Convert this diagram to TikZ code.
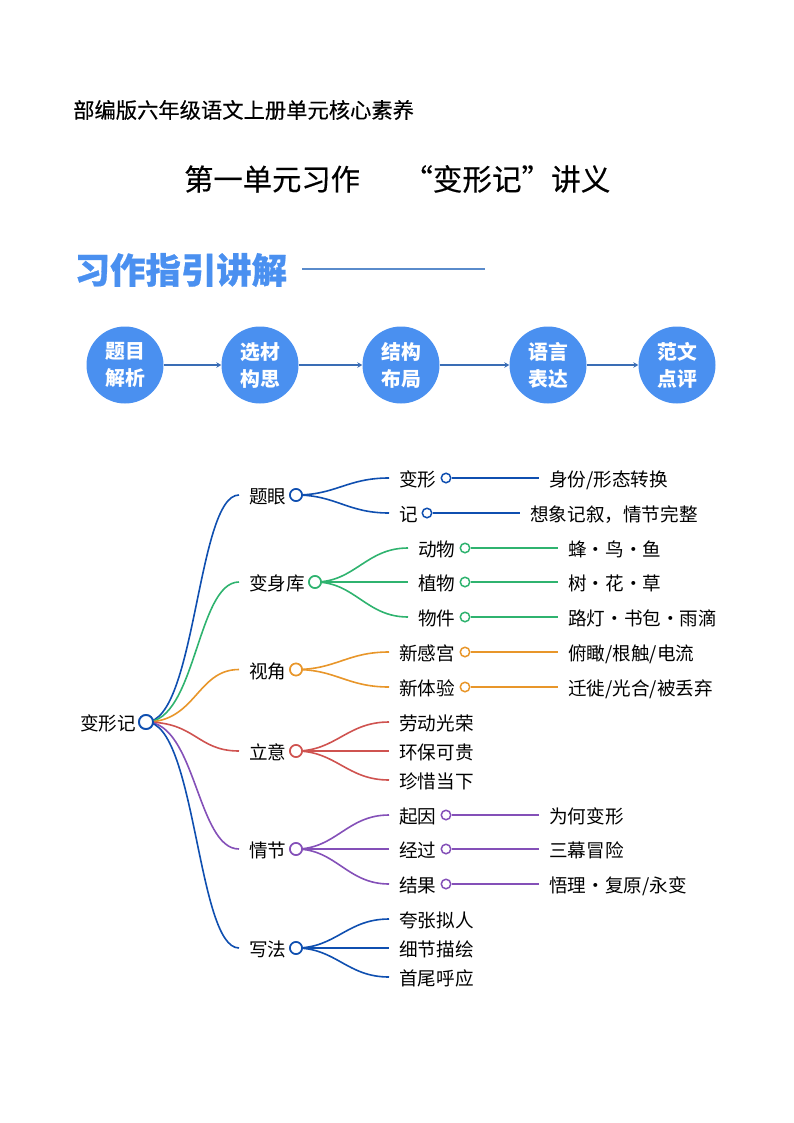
\documentclass[tikz,border=0pt]{standalone}
\usepackage{fontspec}
\usetikzlibrary{arrows.meta}
\setmainfont{Noto Sans CJK SC}
\newfontfamily\cjkmed[FakeBold=0.35]{Noto Sans CJK SC}
\newfontfamily\cjkheavy[BoldFeatures={FakeBold=0.8}]{Noto Sans CJK SC}
\definecolor{mblue}{HTML}{0F4FB0}
\definecolor{mgreen}{HTML}{2FB36F}
\definecolor{morange}{HTML}{E8962A}
\definecolor{mred}{HTML}{CF5350}
\definecolor{mpurple}{HTML}{8450B8}
\definecolor{headblue}{HTML}{4A90F0}
\definecolor{arrowblue}{HTML}{3A6DB5}
\definecolor{ruleblue}{HTML}{5A8BCB}
\tikzset{
  x=1pt,y=-1pt,
  pagetext/.style={anchor=west,inner sep=0pt,text=black},
  stepcirc/.style={circle,fill=headblue,minimum size=77pt,inner sep=0pt,text=white,align=center,font=\fontsize{19.8}{27}\selectfont\bfseries},
  steparrow/.style={arrowblue,line width=1.5pt,-{Stealth[length=5pt,width=5.5pt]}},
  lab/.style={anchor=west,inner ysep=0pt,inner xsep=10pt,text=black,text height=17pt,text depth=0pt,font=\fontsize{18.6}{18.6}\selectfont},
  dotbig/.style={circle,draw=#1,fill=white,line width=1.6pt,minimum size=12pt,inner sep=0pt},
  dotsmall/.style={circle,draw=#1,fill=white,line width=1.5pt,minimum size=9.5pt,inner sep=0pt},
  rootdot/.style={circle,draw=#1,fill=white,line width=1.8pt,minimum size=14pt,inner sep=0pt},
  curve/.style={#1,line width=1.6pt},
  straight/.style={#1,line width=1.6pt},
}
\begin{document}
\begin{tikzpicture}
\useasboundingbox (0,0) rectangle (794,1123);
\node[pagetext,font=\cjkmed\fontsize{21.3}{21.3}\selectfont] (top) at (73,110) {部编版六年级语文上册单元核心素养};
\node[pagetext,font=\cjkmed\fontsize{29.3}{29.3}\selectfont] (title1) at (184,179) {第一单元习作};
\node[pagetext,font=\cjkmed\fontsize{29.6}{29.6}\selectfont] (title2) at (403,179) {“变形记”讲义};
\node[pagetext,text=headblue,font=\cjkheavy\fontsize{35.4}{35.4}\selectfont\bfseries] (head) at (74.5,270) {习作指引讲解};
\coordinate (ruleA) at (302,269);
\coordinate (ruleB) at (485,269);
\draw[ruleblue,line width=1.1pt] (ruleA) -- (ruleB);

\node[stepcirc] (s1) at (125,365) {题目\\解析};
\node[stepcirc] (s2) at (260,365) {选材\\构思};
\node[stepcirc] (s3) at (401,365) {结构\\布局};
\node[stepcirc] (s4) at (548,365) {语言\\表达};
\node[stepcirc] (s5) at (677,365) {范文\\点评};
\draw[steparrow] (s1) -- (s2);
\draw[steparrow] (s2) -- (s3);
\draw[steparrow] (s3) -- (s4);
\draw[steparrow] (s4) -- (s5);

% root
\node[rootdot=mblue] (root) at (146,722) {};
\node[lab,anchor=east,inner xsep=0pt] (rootlab) at (136,722) {变形记};

% level 1 labels
\node[lab] (a) at (239,495) {题眼};
\node[lab] (b) at (239,582) {变身库};
\node[lab] (c) at (239,669.5) {视角};
\node[lab] (d) at (239,751) {立意};
\node[lab] (e) at (239,849) {情节};
\node[lab] (f) at (239,948) {写法};
\draw[curve=mblue] (root.center) .. controls +(50,0) and +(-42,0) .. (a.west);
\draw[curve=mgreen] (root.center) .. controls +(50,0) and +(-42,0) .. (b.west);
\draw[curve=morange] (root.center) .. controls +(50,0) and +(-42,0) .. (c.west);
\draw[curve=mred] (root.center) .. controls +(50,0) and +(-42,0) .. (d.west);
\draw[curve=mpurple] (root.center) .. controls +(50,0) and +(-42,0) .. (e.west);
\draw[curve=mblue] (root.center) .. controls +(50,0) and +(-42,0) .. (f.west);
\node[rootdot=mblue] at (root) {};

\node[dotbig=mblue] (ad) at (296,495) {};
\node[dotbig=mgreen] (bd) at (315,582) {};
\node[dotbig=morange] (cd) at (296,669.5) {};
\node[dotbig=mred] (dd) at (296,751) {};
\node[dotbig=mpurple] (ed) at (296,849) {};
\node[dotbig=mblue] (fd) at (296,948) {};

% level 2 labels
\node[lab] (a1) at (389,478) {变形};
\node[lab] (a2) at (389,513) {记};
\node[lab] (b1) at (408,548) {动物};
\node[lab] (b2) at (408,582) {植物};
\node[lab] (b3) at (408,617) {物件};
\node[lab] (c1) at (389,652) {新感宫};
\node[lab] (c2) at (389,687) {新体验};
\node[lab] (d1) at (389,722) {劳动光荣};
\node[lab] (d2) at (389,751) {环保可贵};
\node[lab] (d3) at (389,780) {珍惜当下};
\node[lab] (e1) at (389,815) {起因};
\node[lab] (e2) at (389,849) {经过};
\node[lab] (e3) at (389,884) {结果};
\node[lab] (f1) at (389,919) {夸张拟人};
\node[lab] (f2) at (389,948) {细节描绘};
\node[lab] (f3) at (389,977) {首尾呼应};

\foreach \p/\q/\k in {ad/a1/mblue,ad/a2/mblue,bd/b1/mgreen,bd/b2/mgreen,bd/b3/mgreen,cd/c1/morange,cd/c2/morange,dd/d1/mred,dd/d2/mred,dd/d3/mred,ed/e1/mpurple,ed/e2/mpurple,ed/e3/mpurple,fd/f1/mblue,fd/f2/mblue,fd/f3/mblue}{
  \draw[curve=\k] (\p.center) .. controls +(40,0) and +(-42,0) .. (\q.west);
}
\node[dotbig=mblue] at (ad) {};
\node[dotbig=mgreen] at (bd) {};
\node[dotbig=morange] at (cd) {};
\node[dotbig=mred] at (dd) {};
\node[dotbig=mpurple] at (ed) {};
\node[dotbig=mblue] at (fd) {};

% level 3 dots and labels
\node[dotsmall=mblue] (a1d) at (446,478) {};
\node[dotsmall=mblue] (a2d) at (427,513) {};
\node[dotsmall=mgreen] (b1d) at (465,548) {};
\node[dotsmall=mgreen] (b2d) at (465,582) {};
\node[dotsmall=mgreen] (b3d) at (465,617) {};
\node[dotsmall=morange] (c1d) at (465,652) {};
\node[dotsmall=morange] (c2d) at (465,687) {};
\node[dotsmall=mpurple] (e1d) at (446,815) {};
\node[dotsmall=mpurple] (e2d) at (446,849) {};
\node[dotsmall=mpurple] (e3d) at (446,884) {};

\node[lab] (a1t) at (539,478) {身份/形态转换};
\node[lab] (a2t) at (520,513) {想象记叙，情节完整};
\node[lab] (b1t) at (558,548) {蜂・鸟・鱼};
\node[lab] (b2t) at (558,582) {树・花・草};
\node[lab] (b3t) at (558,617) {路灯・书包・雨滴};
\node[lab] (c1t) at (558,652) {俯瞰/根触/电流};
\node[lab] (c2t) at (558,687) {迁徙/光合/被丢弃};
\node[lab] (e1t) at (539,815) {为何变形};
\node[lab] (e2t) at (539,849) {三幕冒险};
\node[lab] (e3t) at (539,884) {悟理・复原/永变};

\draw[straight=mblue] (a1d) -- (a1t.west);
\draw[straight=mblue] (a2d) -- (a2t.west);
\draw[straight=mgreen] (b1d) -- (b1t.west);
\draw[straight=mgreen] (b2d) -- (b2t.west);
\draw[straight=mgreen] (b3d) -- (b3t.west);
\draw[straight=morange] (c1d) -- (c1t.west);
\draw[straight=morange] (c2d) -- (c2t.west);
\draw[straight=mpurple] (e1d) -- (e1t.west);
\draw[straight=mpurple] (e2d) -- (e2t.west);
\draw[straight=mpurple] (e3d) -- (e3t.west);
\end{tikzpicture}
\end{document}
